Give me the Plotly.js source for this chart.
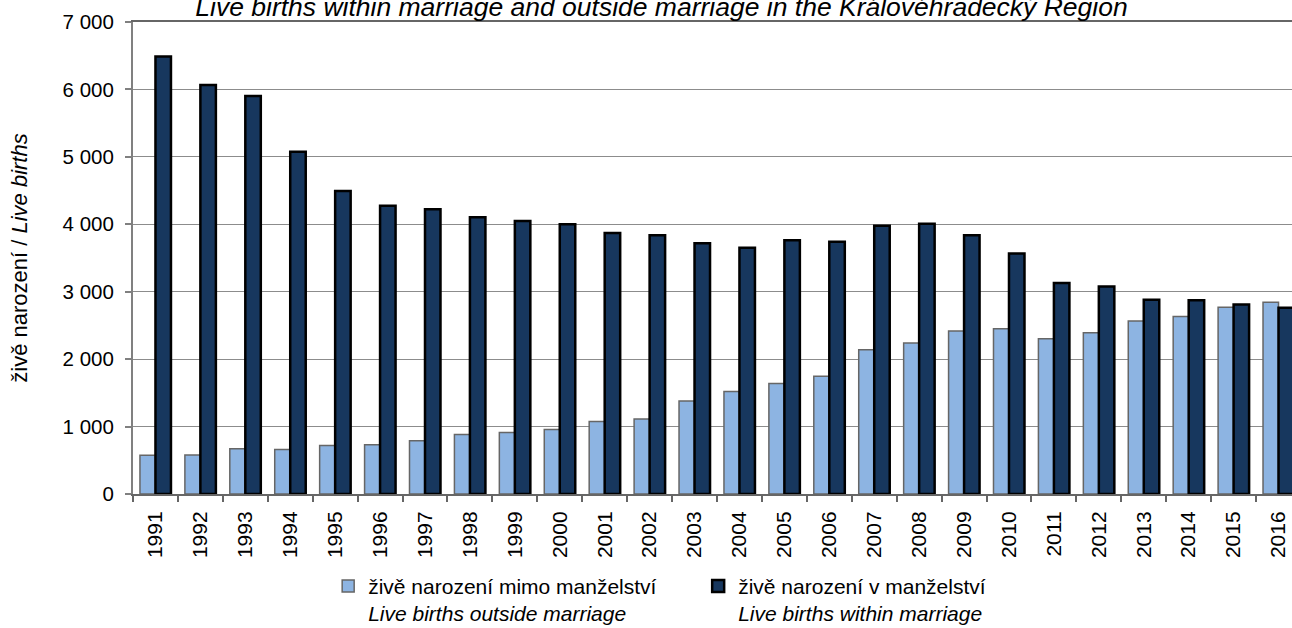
<!DOCTYPE html>
<html>
<head>
<meta charset="utf-8">
<script src="https://cdn.plot.ly/plotly-3.0.1.min.js"></script>
<style>
  html, body { margin: 0; padding: 0; background: #fff; }
  #chart { width: 1292px; height: 628px; }
</style>
</head>
<body>
<div id="chart"></div>
<script>
// years on the x axis
var years = ['1991', '1992', '1993', '1994', '1995', '1996', '1997', '1998', '1999', '2000',
  '2001', '2002', '2003', '2004', '2005', '2006', '2007', '2008', '2009', '2010',
  '2011', '2012', '2013', '2014', '2015', '2016'];

// live births outside marriage
var outsideMarriage = [575, 578, 671, 661, 720, 730, 790, 883, 913, 957,
  1075, 1111, 1378, 1520, 1639, 1748, 2138, 2241, 2419, 2449,
  2301, 2390, 2567, 2631, 2770, 2844];

// live births within marriage
var withinMarriage = [6490, 6064, 5901, 5076, 4493, 4276, 4222, 4104, 4049, 4000,
  3871, 3837, 3719, 3653, 3763, 3742, 3979, 4009, 3837, 3565,
  3130, 3076, 2879, 2874, 2809, 2764];

var yTicks = [0, 1000, 2000, 3000, 4000, 5000, 6000, 7000];

var FONT = 'Liberation Sans, Arial, sans-serif';

var outside = {
  type: 'bar',
  x: years,
  y: outsideMarriage,
  name: 'živě narození mimo manželství<br><i>Live births outside marriage</i>',
  marker: { color: '#8db4e2', line: { color: '#666666', width: 1.5 } },
  hoverinfo: 'x+y'
};

var within = {
  type: 'bar',
  x: years,
  y: withinMarriage,
  name: 'živě narození v manželství<br><i>Live births within marriage</i>',
  marker: { color: '#17375e', line: { color: '#000000', width: 2.5 } },
  hoverinfo: 'x+y'
};

var layout = {
  width: 1292,
  height: 628,
  margin: { l: 133, r: 0, t: 22, b: 134 },
  paper_bgcolor: '#ffffff',
  plot_bgcolor: '#ffffff',
  font: { family: FONT, size: 20, color: '#000' },
  separators: ', ',
  barmode: 'group',
  bargap: 0.31,
  bargroupgap: 0,
  title: {
    text: '<i>Live births within marriage and outside marriage in the Královéhradecký Region</i>',
    font: { family: FONT, size: 26.5, color: '#000' },
    x: 0.512,
    xanchor: 'center',
    xref: 'container',
    yref: 'container',
    y: 0.99,
    yanchor: 'middle'
  },
  xaxis: {
    type: 'category',
    range: [-0.5, 25.3],
    tickangle: -90,
    tickson: 'boundaries',
    ticks: 'outside',
    ticklen: 6,
    tickwidth: 2,
    tickcolor: '#666666',
    ticklabelstandoff: 7,
    showline: true,
    linecolor: '#666666',
    linewidth: 2,
    mirror: true,
    showgrid: false,
    zeroline: false,
    tickfont: { family: FONT, size: 21, color: '#000' }
  },
  yaxis: {
    range: [0, 7000],
    tickvals: yTicks,
    tickformat: ',d',
    ticks: 'outside',
    ticklen: 6,
    tickwidth: 2,
    tickcolor: '#808080',
    ticklabelstandoff: 7,
    showline: true,
    linecolor: '#808080',
    linewidth: 2,
    showgrid: true,
    gridcolor: '#8c8c8c',
    gridwidth: 1,
    zeroline: false,
    tickfont: { family: FONT, size: 20.5, color: '#000' },
    title: {
      text: 'živě narození / <i>Live births</i>',
      font: { family: FONT, size: 22, color: '#000' },
      standoff: 29
    }
  },
  legend: {
    orientation: 'h',
    xref: 'container',
    yref: 'container',
    x: 0.254,
    xanchor: 'left',
    y: 0.099,
    yanchor: 'top',
    valign: 'top',
    entrywidth: 325,
    font: { family: FONT, size: 21, color: '#000' },
    bgcolor: 'rgba(0,0,0,0)'
  },
  showlegend: true
};

Plotly.newPlot('chart', [outside, within], layout, { displayModeBar: false, staticPlot: true });
</script>
</body>
</html>
